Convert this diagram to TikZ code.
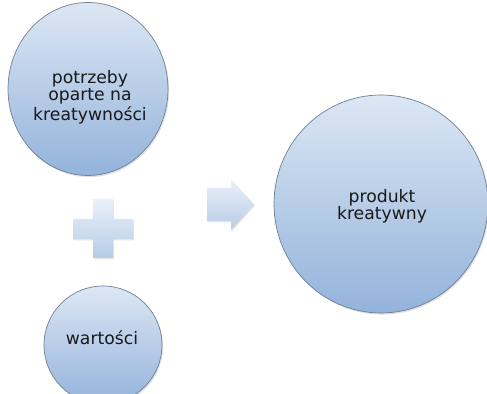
\documentclass[tikz,border=0pt]{standalone}
\usepackage{fontspec}
\setmainfont{DejaVu Sans}
\usetikzlibrary{shapes.geometric,shadows}
\definecolor{ballTop}{HTML}{DCE7F4}
\definecolor{ballBot}{HTML}{94B3DB}
\definecolor{ballEdge}{HTML}{6F8097}
\definecolor{signTop}{HTML}{EAF0F8}
\definecolor{signBot}{HTML}{B7CCE7}
\tikzset{ball/.style={ellipse,draw=ballEdge,line width=0.4pt,
        top color=ballTop,bottom color=ballBot,inner sep=0pt,
        drop shadow={shadow xshift=0.6pt,shadow yshift=-0.9pt,opacity=0.25}},
    caption/.style={align=center,inner sep=0pt,text=black!90,
        font=\fontsize{9.8}{9.9}\selectfont},
    sign/.style={top color=signTop,bottom color=signBot,
        drop shadow={shadow xshift=0.5pt,shadow yshift=-0.8pt,opacity=0.2}}
}

\begin{document}
\begin{tikzpicture}[x=0.02cm,y=-0.02cm]
      \clip (0,0) rectangle (487,394);
      \fill[white] (0,0) rectangle (487,394);
      \node[ball,minimum width=3.2cm,minimum height=3.46cm] (needs) at (88,89) {};
      \node[ball,minimum width=2.36cm,minimum height=2.36cm] (values) at (103,345) {};
      \node[ball,minimum width=4.28cm,minimum height=4.36cm] (product) at (381,204) {};
      \node[caption] (needsText) at (90,97) {potrzeby\\oparte na\\kreatywności};
      \node[caption] (valuesText) at (102,338) {wartości};
      \node[caption] (productText) at (382,206) {produkt\\kreatywny};
      % plus
      \path[sign] (93,199) -- (113,199) -- (113,219) -- (133,219) -- (133,239) -- (113,239)
            -- (113,258) -- (93,258) -- (93,239) -- (73,239) -- (73,219) -- (93,219) -- cycle;
      % arrow
      \path[sign] (207,188) -- (231,188) -- (231,179) -- (254,204.5) -- (231,230)
            -- (231,221) -- (207,221) -- cycle;
\end{tikzpicture}
\end{document}
